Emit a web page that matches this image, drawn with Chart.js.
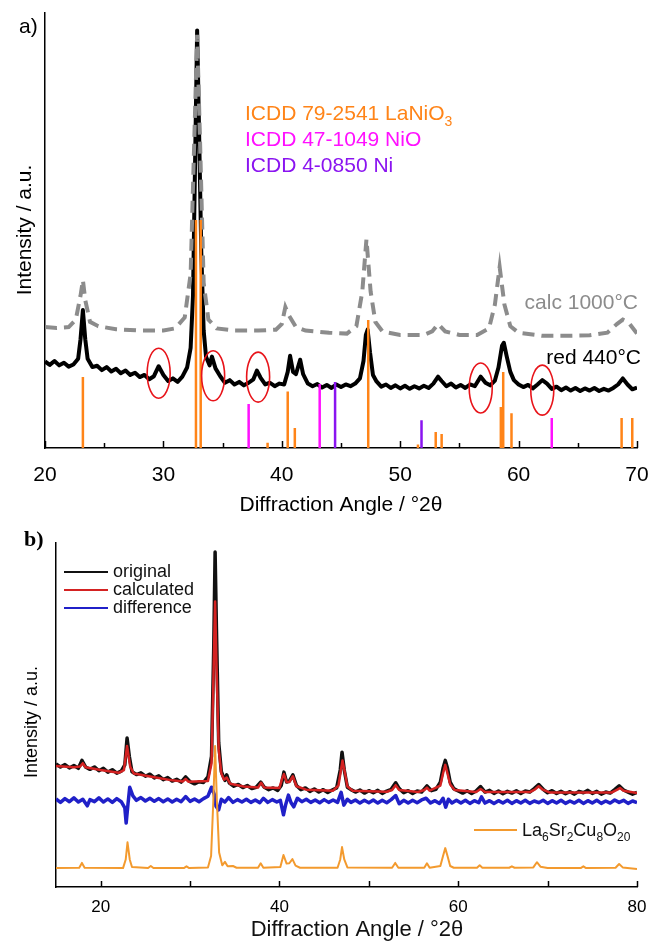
<!DOCTYPE html>
<html>
<head>
<meta charset="utf-8">
<title>XRD patterns</title>
<script src="https://cdn.jsdelivr.net/npm/chart.js@4.4.1/dist/chart.umd.min.js"></script>
<style>
  html, body { margin: 0; padding: 0; background: #fff; }
  #figure { position: relative; width: 649px; height: 941px; }
  canvas { position: absolute; left: 0; }
  #panelA { top: 0; }
  #panelB { top: 520px; }
</style>
</head>
<body>
<div id="figure">
  <canvas id="panelA" width="649" height="520"></canvas>
  <canvas id="panelB" width="649" height="421"></canvas>
</div>
<script>
const FONT = "'Liberation Sans', Arial, sans-serif";

// ---------- a) reduced at 440 °C vs calculated 1000 °C ----------
const red440Angle = [
  20.0, 20.4, 20.8, 21.2, 21.6, 22.0, 22.4, 22.8, 23.0, 23.2, 23.4, 23.6, 24.0, 24.4, 24.8,
  25.2, 25.6, 26.0, 26.4, 26.8, 27.2, 27.6, 28.0, 28.4, 28.8, 29.2, 29.6, 30.0, 30.4, 30.8,
  31.2, 31.6, 32.0, 32.3, 32.5, 32.7, 32.85, 33.0, 33.2, 33.4, 33.6, 33.9, 34.1, 34.4, 34.8,
  35.2, 35.6, 36.0, 36.4, 36.8, 37.2, 37.6, 37.9, 38.2, 38.6, 39.0, 39.4, 39.8, 40.2, 40.5,
  40.7, 40.95, 41.2, 41.55, 41.8, 42.2, 42.6, 43.0, 43.4, 43.8, 44.2, 44.6, 45.0, 45.4, 45.8,
  46.2, 46.6, 46.9, 47.1, 47.25, 47.45, 47.7, 48.0, 48.4, 48.8, 49.2, 49.6, 50.0, 50.4, 50.8,
  51.2, 51.6, 52.0, 52.4, 52.8, 53.2, 53.5, 53.9, 54.3, 54.7, 55.1, 55.5, 55.9, 56.3, 56.8,
  57.2, 57.6, 58.0, 58.3, 58.6, 58.75, 59.0, 59.3, 59.6, 60.0, 60.4, 60.8, 61.2, 61.6, 62.0,
  62.4, 62.8, 63.2, 63.6, 64.0, 64.4, 64.8, 65.2, 65.6, 66.0, 66.4, 66.8, 67.2, 67.6, 68.0,
  68.4, 68.8, 69.2, 69.6, 70.0
];
const red440Intensity = [
  19.9, 19.1, 20.0, 19.0, 19.6, 18.7, 19.2, 20.5, 25.0, 31.7, 25.0, 20.5, 18.6, 18.9, 17.9,
  18.6, 17.6, 18.2, 17.2, 17.8, 16.8, 17.3, 16.3, 16.8, 15.8, 16.5, 18.8, 16.8, 15.4, 16.0,
  15.2, 16.4, 18.5, 23.0, 35.0, 70.0, 96.0, 75.0, 45.0, 27.0, 21.0, 19.0, 21.0, 18.3, 16.5,
  15.0, 15.6, 14.6, 15.2, 14.4, 15.0, 15.8, 17.8, 16.2, 14.6, 15.0, 14.2, 14.8, 14.6, 17.5,
  21.2, 17.5, 17.0, 20.3, 17.0, 14.8, 14.2, 14.7, 13.9, 14.5, 13.8, 14.6, 14.0, 14.6, 14.2,
  14.8, 16.0, 20.0, 26.0, 27.2, 22.0, 16.8, 15.3, 14.1, 14.6, 13.8, 14.4, 13.7, 14.3, 13.6,
  14.2, 13.7, 14.3, 13.8, 14.8, 16.4, 15.4, 14.2, 14.8, 13.9, 14.5, 13.8, 14.6, 14.2, 16.4,
  15.0, 14.4, 15.5, 18.5, 23.5, 24.2, 21.0, 17.5, 15.6, 14.6, 14.0, 14.5, 13.7, 14.6, 15.6,
  14.8, 13.6, 14.1, 13.3, 13.9, 13.2, 13.8, 13.1, 13.7, 13.2, 13.8, 13.1, 13.6, 13.2, 13.8,
  14.6, 16.0, 14.6, 13.5, 13.9
];

const calc1000Angle = [
  20.0, 21.0, 22.0, 22.6, 23.0, 23.2, 23.4, 23.8, 24.5, 26.0, 28.0, 30.0, 31.0, 31.8, 32.3,
  32.6, 32.85, 33.1, 33.4, 33.8, 34.5, 36.0, 38.0, 39.5, 40.0, 40.3, 40.6, 41.2, 42.0, 44.0,
  45.5, 46.3, 46.8, 47.15, 47.5, 47.9, 48.5, 50.0, 52.0, 52.7, 53.2, 53.8, 55.0, 56.5, 57.5,
  58.0, 58.4, 58.8, 59.3, 60.0, 62.0, 64.0, 66.0, 67.5, 68.3, 68.8, 69.3, 70.0
];
const calc1000Intensity = [
  27.8, 27.6, 27.8, 29.5, 35.0, 38.6, 34.0, 29.0, 28.0, 27.3, 27.0, 27.0, 27.5, 30.0, 40.0,
  70.0, 95.0, 70.0, 38.0, 29.5, 27.5, 27.0, 27.0, 27.2, 28.5, 32.4, 30.5, 27.8, 27.0, 26.5,
  26.3, 28.0, 36.0, 48.0, 36.0, 29.0, 26.8, 26.0, 26.0, 26.8, 28.5, 26.8, 26.0, 26.0, 27.5,
  33.0, 41.6, 33.0, 28.0, 26.5, 25.8, 25.8, 25.9, 26.5, 28.5, 29.5, 28.8, 26.3
];

// reference reflections, relative stick heights
const lanio3Angle = [23.2, 32.75, 33.15, 38.8, 40.5, 41.1, 47.3, 51.5, 53.0, 53.5, 58.5, 58.7, 59.4, 68.7, 69.6];
const lanio3Height = [16.3, 52.4, 52.4, 1.2, 13.0, 4.6, 29.4, 0.8, 3.7, 3.2, 9.4, 17.5, 8.0, 6.9, 6.9];
const nioAngle = [37.2, 43.2, 62.8];
const nioHeight = [10.1, 14.7, 6.9];
const niAngle = [44.5, 51.8];
const niHeight = [15.2, 6.4];

// weak unindexed reflections that get circled
const circledAngle = [29.6, 34.2, 38.0, 56.8, 62.0];
const circledIntensity = [17.2, 16.6, 16.3, 13.8, 13.3];

const ticksAMajor = [20, 30, 40, 50, 60, 70];
const ticksAMinor = [25, 35, 45, 55, 65];

// ---------- b) Rietveld fit of La6Sr2Cu8O20 ----------
const origAngle = [
  15.0, 15.5, 16.0, 16.5, 17.0, 17.5, 17.9, 18.3, 18.8, 19.3, 19.8, 20.3, 20.8, 21.3, 21.8,
  22.3, 22.7, 22.95, 23.2, 23.5, 24.0, 24.5, 25.0, 25.5, 26.0, 26.5, 27.0, 27.5, 28.0, 28.5,
  29.0, 29.5, 30.0, 30.5, 31.0, 31.5, 32.0, 32.4, 32.65, 32.8, 32.95, 33.2, 33.5, 33.9, 34.1,
  34.4, 34.9, 35.4, 35.9, 36.4, 36.9, 37.4, 37.9, 38.3, 38.8, 39.3, 39.8, 40.2, 40.5, 40.8,
  41.1, 41.5, 41.9, 42.4, 42.9, 43.4, 43.9, 44.4, 44.9, 45.4, 45.9, 46.4, 46.8, 47.0, 47.25,
  47.6, 48.0, 48.5, 49.0, 49.5, 50.0, 50.5, 51.0, 51.5, 52.0, 52.5, 53.0, 53.4, 53.9, 54.4,
  54.9, 55.4, 55.9, 56.5, 57.0, 57.5, 58.0, 58.3, 58.55, 58.8, 59.1, 59.5, 60.0, 60.5, 61.0,
  61.5, 62.0, 62.5, 63.0, 63.5, 64.0, 64.5, 65.0, 65.5, 66.0, 66.5, 67.0, 67.5, 68.0, 68.5,
  69.0, 69.5, 70.0, 70.5, 71.0, 71.5, 72.0, 72.5, 73.0, 73.5, 74.0, 74.5, 75.0, 75.5, 76.0,
  76.5, 77.0, 77.5, 78.0, 78.5, 79.0, 79.5, 80.0
];
const origIntensity = [
  35.8, 34.9, 35.6, 34.6, 35.3, 34.5, 36.8, 34.9, 34.2, 34.9, 33.8, 34.5, 33.4, 34.1, 33.1,
  33.7, 35.5, 43.3, 38.0, 33.5, 32.7, 33.2, 32.2, 32.8, 31.7, 32.3, 31.2, 31.8, 30.8, 31.3,
  30.5, 32.0, 30.6, 30.0, 30.6, 30.4, 32.0, 38.0, 70.0, 97.4, 75.0, 42.0, 33.5, 31.0, 32.6,
  30.2, 29.3, 29.8, 28.9, 29.5, 28.6, 29.0, 30.5, 29.0, 28.3, 28.8, 28.1, 29.5, 33.4, 30.5,
  30.8, 32.6, 29.5, 28.3, 28.8, 27.8, 28.5, 27.6, 28.3, 27.5, 28.2, 28.8, 34.0, 39.2, 34.0,
  29.0, 28.3, 27.6, 28.2, 27.3, 28.0, 27.4, 28.1, 27.2, 27.9, 28.4, 30.3, 28.6, 27.4, 28.0,
  27.2, 27.9, 27.6, 29.4, 28.0, 28.4, 30.5, 34.5, 36.8, 34.5, 30.5, 28.6, 27.9, 27.3, 28.0,
  27.2, 27.9, 29.2, 27.6, 28.1, 27.2, 27.9, 27.1, 27.8, 27.3, 28.0, 27.2, 27.9, 27.6, 28.6,
  29.8, 28.4, 27.4, 28.0, 27.2, 27.8, 27.1, 27.7, 27.0, 27.8, 27.4, 28.1, 27.2, 27.8, 27.0,
  27.6, 27.3, 28.3, 29.4, 28.2, 27.6, 27.0, 27.5
];

const calcAngle = [
  15.0, 17.0, 17.7, 18.0, 18.3, 20.0, 22.0, 22.6, 22.95, 23.3, 23.7, 26.0, 28.0, 29.2, 29.5,
  29.8, 32.0, 32.4, 32.65, 32.8, 32.95, 33.2, 33.5, 33.8, 34.1, 34.5, 36.0, 37.6, 37.95, 38.3,
  40.0, 40.3, 40.5, 40.8, 41.1, 41.5, 41.9, 43.0, 46.0, 46.6, 46.85, 47.05, 47.3, 47.6, 48.2,
  52.0, 52.6, 53.0, 53.4, 55.5, 56.2, 56.5, 56.8, 58.0, 58.3, 58.55, 58.8, 59.1, 59.6, 62.0,
  62.5, 63.0, 68.0, 68.6, 69.0, 69.4, 70.2, 77.2, 77.8, 78.1, 78.5, 80.0
];
const calcIntensity = [
  35.2, 34.8, 35.0, 36.0, 34.8, 34.0, 33.2, 34.0, 41.0, 35.0, 33.0, 31.9, 31.0, 30.7, 31.4,
  30.6, 30.8, 36.0, 65.0, 83.0, 65.0, 40.0, 33.0, 31.2, 31.8, 30.0, 29.2, 28.9, 30.3, 28.9,
  28.8, 31.5, 32.8, 30.5, 30.5, 32.2, 29.3, 28.3, 28.0, 29.5, 33.5, 36.8, 33.5, 29.2, 28.0,
  27.7, 28.2, 29.6, 28.2, 27.6, 28.2, 28.9, 28.0, 29.5, 33.0, 35.5, 33.0, 29.8, 28.2, 27.6,
  28.5, 27.6, 27.6, 28.4, 29.3, 28.4, 27.5, 27.5, 28.3, 28.8, 28.0, 27.3
];

const diffAngle = [
  15.0, 15.5, 16.0, 16.5, 17.0, 17.5, 18.0, 18.5, 18.8, 19.3, 19.8, 20.3, 20.8, 21.3, 21.8,
  22.3, 22.7, 22.85, 23.05, 23.25, 23.6, 24.0, 24.5, 25.0, 25.5, 26.0, 26.5, 27.0, 27.5, 28.0,
  28.5, 29.0, 29.5, 30.0, 30.5, 31.0, 31.5, 32.0, 32.4, 32.7, 32.9, 33.2, 33.5, 33.9, 34.3,
  34.8, 35.3, 35.8, 36.3, 36.8, 37.3, 37.8, 38.2, 38.7, 39.2, 39.7, 40.1, 40.45, 40.7, 41.0,
  41.3, 41.6, 42.0, 42.5, 43.0, 43.5, 44.0, 44.5, 45.0, 45.5, 46.0, 46.5, 46.9, 47.2, 47.6,
  48.0, 48.5, 49.0, 49.5, 50.0, 50.5, 51.0, 51.5, 52.0, 52.5, 53.0, 53.4, 53.9, 54.4, 54.9,
  55.4, 55.9, 56.4, 56.9, 57.4, 57.9, 58.3, 58.6, 58.9, 59.3, 59.8, 60.3, 60.8, 61.3, 61.8,
  62.3, 62.6, 63.0, 63.5, 64.0, 64.5, 65.0, 65.5, 66.0, 66.5, 67.0, 67.5, 68.0, 68.5, 69.0,
  69.5, 70.0, 70.5, 71.0, 71.5, 72.0, 72.5, 73.0, 73.5, 74.0, 74.5, 75.0, 75.5, 76.0, 76.5,
  77.0, 77.5, 78.0, 78.5, 79.0, 79.5, 80.0
];
const diffIntensity = [
  25.6, 24.6, 25.7, 24.8, 25.9, 24.7, 25.5, 23.6, 25.4, 24.8, 25.9, 24.7, 25.6, 24.6, 25.7,
  24.8, 23.0, 18.6, 24.0, 29.0, 26.5, 25.2, 26.0, 25.0, 25.8, 24.9, 25.7, 24.8, 25.6, 24.7,
  25.5, 24.8, 26.3, 24.9, 25.6, 24.8, 25.7, 26.4, 29.0, 27.0, 23.5, 22.4, 25.5, 24.7, 26.0,
  24.6, 25.4, 24.7, 25.5, 24.6, 25.3, 24.5, 25.8, 24.6, 25.4, 24.7, 25.2, 21.0, 24.0, 26.7,
  24.5, 23.3, 25.8, 24.8, 25.5, 24.6, 25.3, 24.5, 25.4, 24.6, 25.3, 24.6, 27.5, 23.8, 25.5,
  24.6, 25.3, 24.4, 25.2, 24.5, 25.3, 24.4, 25.2, 24.5, 25.4, 26.6, 24.2, 25.2, 24.4, 25.2,
  24.5, 25.3, 25.8, 24.4, 25.1, 24.3, 25.8, 23.2, 25.5, 24.4, 25.2, 24.4, 25.2, 24.3, 25.1,
  24.5, 26.2, 24.4, 25.1, 24.3, 25.1, 24.4, 25.2, 24.3, 25.1, 24.4, 25.2, 24.3, 25.0, 24.5,
  25.2, 24.3, 25.1, 24.4, 25.2, 24.3, 25.0, 24.4, 25.2, 24.3, 25.1, 24.4, 25.2, 24.3, 25.0,
  24.4, 25.3, 24.6, 25.2, 24.3, 25.0, 24.5
];

const phaseAngle = [
  15.0, 17.6, 17.9, 18.2, 22.5, 22.8, 23.0, 23.25, 23.5, 25.3, 25.6, 25.9, 29.3, 29.6, 29.9,
  32.0, 32.35, 32.6, 32.8, 33.0, 33.25, 33.6, 33.9, 34.2, 34.8, 35.2, 37.6, 37.9, 38.2, 40.1,
  40.45, 40.8, 41.1, 41.45, 41.8, 42.3, 46.5, 46.8, 47.0, 47.25, 47.6, 52.6, 52.95, 53.3, 56.2,
  56.5, 56.8, 58.0, 58.3, 58.55, 58.8, 59.1, 59.5, 62.1, 62.4, 62.7, 65.7, 66.0, 66.3, 68.4,
  68.8, 69.2, 70.0, 73.7, 74.0, 74.3, 77.6, 78.0, 78.4, 80.0
];
const phaseIntensity = [
  5.5, 5.6, 7.0, 5.6, 5.5, 8.0, 13.0, 8.0, 5.8, 5.5, 6.1, 5.5, 5.5, 6.0, 5.5,
  5.7, 9.0, 25.0, 41.0, 25.0, 10.0, 6.3, 7.3, 6.0, 6.1, 5.6, 5.6, 6.9, 5.6, 5.8,
  9.3, 6.8, 6.9, 8.1, 6.2, 5.6, 5.6, 8.0, 11.6, 8.0, 5.7, 5.6, 7.0, 5.6, 5.6,
  6.9, 5.6, 6.1, 9.0, 11.3, 9.0, 6.1, 5.6, 5.6, 6.3, 5.6, 5.6, 6.0, 5.6, 5.7,
  7.2, 5.9, 5.5, 5.5, 6.0, 5.5, 5.6, 6.7, 5.7, 5.2
];

const ticksB = [20, 30, 40, 50, 60, 70, 80];
const ticksBLabelled = [20, 40, 60, 80];

// ---------- helpers ----------
const toPoints = (xs, ys) => xs.map((x, i) => ({ x, y: ys[i] }));

// each reflection becomes its own vertical segment, separated by a gap
const toSticks = (xs, hs) =>
  xs.flatMap((x, i) => [{ x, y: 0 }, { x, y: hs[i] }, { x, y: null }]);

const lineSet = (data, color, width, order, extra = {}) => ({
  data,
  borderColor: color,
  borderWidth: width,
  borderJoinStyle: "round",
  pointRadius: 0,
  tension: 0,
  spanGaps: false,
  order,
  ...extra,
});

// Chart.js draws ticks outward, these plots want them pointing into the plot
const inwardTicks = {
  id: "inwardTicks",
  afterDraw(chart, args, opts) {
    const { ctx, chartArea } = chart;
    const x = chart.scales.x;
    ctx.save();
    ctx.strokeStyle = "#000";
    ctx.lineWidth = opts.width;
    const draw = (values, len) => values.forEach((v) => {
      const px = Math.round(x.getPixelForValue(v)) + 0.5;
      ctx.beginPath();
      ctx.moveTo(px, chartArea.bottom);
      ctx.lineTo(px, chartArea.bottom - len);
      ctx.stroke();
    });
    draw(opts.major, opts.majorLen);
    draw(opts.minor, opts.minorLen);
    ctx.restore();
  },
};

// text with subscripts, parts = [[text, isSub], ...]
function drawRich(ctx, parts, x, y, size, subSize, color) {
  ctx.fillStyle = color;
  ctx.textBaseline = "alphabetic";
  ctx.textAlign = "left";
  let cx = x;
  for (const [text, sub] of parts) {
    ctx.font = `${sub ? subSize : size}px ${FONT}`;
    ctx.fillText(text, cx, sub ? y + size * 0.3 : y);
    cx += ctx.measureText(text).width;
  }
}

function drawVertical(ctx, text, x, y, size) {
  ctx.save();
  ctx.translate(x, y);
  ctx.rotate(-Math.PI / 2);
  ctx.font = `${size}px ${FONT}`;
  ctx.fillStyle = "#000";
  ctx.textAlign = "center";
  ctx.textBaseline = "middle";
  ctx.fillText(text, 0, 0);
  ctx.restore();
}

const baseScales = (min, max, step, tickSize, tickPad, xHeight, yWidth, tickCallback) => ({
  x: {
    type: "linear",
    min,
    max,
    afterFit: (s) => {
      s.height = xHeight;
      // the end labels may hang over the plot edge, don't shrink the plot for them
      s.paddingLeft = 0;
      s.paddingRight = 0;
    },
    grid: { display: false, drawTicks: false },
    border: { display: true, color: "#000", width: 1.5 },
    ticks: {
      stepSize: step,
      padding: tickPad,
      color: "#000",
      maxRotation: 0,
      font: { family: FONT, size: tickSize },
      callback: tickCallback,
    },
  },
  y: {
    min: 0,
    max: 100,
    afterFit: (s) => { s.width = yWidth; },
    grid: { display: false, drawTicks: false },
    border: { display: true, color: "#000", width: 1.5 },
    ticks: { display: false },
  },
});

// ---------- panel a ----------
const panelALabels = {
  id: "panelALabels",
  afterDatasetsDraw(chart) {
    const { ctx } = chart;
    const x = chart.scales.x;
    const y = chart.scales.y;
    ctx.save();
    // circles around the weak extra reflections
    ctx.strokeStyle = "#e8141a";
    ctx.lineWidth = 1.6;
    circledAngle.forEach((a, i) => {
      ctx.beginPath();
      ctx.ellipse(x.getPixelForValue(a), y.getPixelForValue(circledIntensity[i]), 11.5, 25, 0, 0, Math.PI * 2);
      ctx.stroke();
    });
    ctx.restore();
  },
  afterDraw(chart) {
    const { ctx } = chart;
    ctx.save();
    drawRich(ctx, [["ICDD 79-2541 LaNiO", false], ["3", true]], 245, 120, 21, 14, "#ff8418");
    drawRich(ctx, [["ICDD 47-1049 NiO", false]], 245, 146, 21, 14, "#ff10ff");
    drawRich(ctx, [["ICDD 4-0850 Ni", false]], 245, 172, 21, 14, "#8a14f0");
    ctx.font = `21px ${FONT}`;
    ctx.textAlign = "right";
    ctx.textBaseline = "alphabetic";
    ctx.fillStyle = "#8c8c8c";
    ctx.fillText("calc 1000°C", 638, 309);
    ctx.fillStyle = "#000";
    ctx.fillText("red 440°C", 641, 364);
    ctx.textAlign = "left";
    ctx.fillText("a)", 19, 33);
    ctx.textAlign = "center";
    ctx.fillText("Diffraction Angle / °2θ", 341, 511);
    drawVertical(ctx, "Intensity / a.u.", 25, 230, 21);
    ctx.restore();
  },
};

new Chart(document.getElementById("panelA"), {
  type: "line",
  data: {
    datasets: [
      lineSet(toPoints(red440Angle, red440Intensity), "#000", 4, 5),
      lineSet(toPoints(calc1000Angle, calc1000Intensity), "#8c8c8c", 4, 4, { borderDash: [12, 7], borderJoinStyle: "miter" }),
      lineSet(toSticks(lanio3Angle, lanio3Height), "#ff8418", 2.5, 1),
      lineSet(toSticks(nioAngle, nioHeight), "#ff10ff", 2.5, 2),
      lineSet(toSticks(niAngle, niHeight), "#8a14f0", 2.5, 3),
    ],
  },
  options: {
    responsive: false,
    animation: false,
    events: [],
    layout: { autoPadding: false, padding: { top: 13, right: 12, left: 0, bottom: 0 } },
    scales: baseScales(20, 70, 10, 21, 15, 72, 45),
    plugins: {
      legend: { display: false },
      tooltip: { enabled: false },
      inwardTicks: { major: ticksAMajor, minor: ticksAMinor, majorLen: 7, minorLen: 5, width: 1.5 },
    },
  },
  plugins: [inwardTicks, panelALabels],
});

// ---------- panel b ----------
const panelBLabels = {
  id: "panelBLabels",
  afterDraw(chart) {
    const { ctx } = chart;
    ctx.save();
    const legend = [["original", "#111"], ["calculated", "#d42222"], ["difference", "#2020c8"]];
    legend.forEach(([label, color], i) => {
      const ly = 52 + i * 18;
      ctx.strokeStyle = color;
      ctx.lineWidth = 2;
      ctx.beginPath();
      ctx.moveTo(64, ly);
      ctx.lineTo(108, ly);
      ctx.stroke();
      ctx.fillStyle = "#111";
      ctx.font = `18px ${FONT}`;
      ctx.textBaseline = "middle";
      ctx.textAlign = "left";
      ctx.fillText(label, 113, ly);
    });
    ctx.strokeStyle = "#f39a2e";
    ctx.lineWidth = 2;
    ctx.beginPath();
    ctx.moveTo(474, 310);
    ctx.lineTo(517, 310);
    ctx.stroke();
    drawRich(ctx, [["La", false], ["6", true], ["Sr", false], ["2", true], ["Cu", false], ["8", true], ["O", false], ["20", true]], 522, 316, 18, 12, "#111");

    ctx.fillStyle = "#000";
    ctx.font = `bold 22px 'Liberation Serif', 'Times New Roman', serif`;
    ctx.textAlign = "left";
    ctx.textBaseline = "middle";
    ctx.fillText("b)", 24, 20);
    ctx.font = `22px ${FONT}`;
    ctx.textAlign = "center";
    ctx.fillStyle = "#111";
    ctx.fillText("Diffraction Angle / °2θ", 357, 410);
    drawVertical(ctx, "Intensity / a.u.", 32, 202, 18);
    ctx.restore();
  },
};

new Chart(document.getElementById("panelB"), {
  type: "line",
  data: {
    datasets: [
      lineSet(toPoints(origAngle, origIntensity), "#111", 3.5, 4),
      lineSet(toPoints(calcAngle, calcIntensity), "#d42222", 2.5, 3),
      lineSet(toPoints(diffAngle, diffIntensity), "#2020c8", 3.5, 2),
      lineSet(toPoints(phaseAngle, phaseIntensity), "#f39a2e", 2, 1),
    ],
  },
  options: {
    responsive: false,
    animation: false,
    events: [],
    layout: { autoPadding: false, padding: { top: 23, right: 12, left: 0, bottom: 0 } },
    scales: baseScales(15, 80, 10, 17, 10, 54, 56, (v) => (ticksBLabelled.includes(v) ? v : "")),
    plugins: {
      legend: { display: false },
      tooltip: { enabled: false },
      inwardTicks: { major: ticksB, minor: [], majorLen: 6, minorLen: 0, width: 1.5 },
    },
  },
  plugins: [inwardTicks, panelBLabels],
});
</script>
</body>
</html>
